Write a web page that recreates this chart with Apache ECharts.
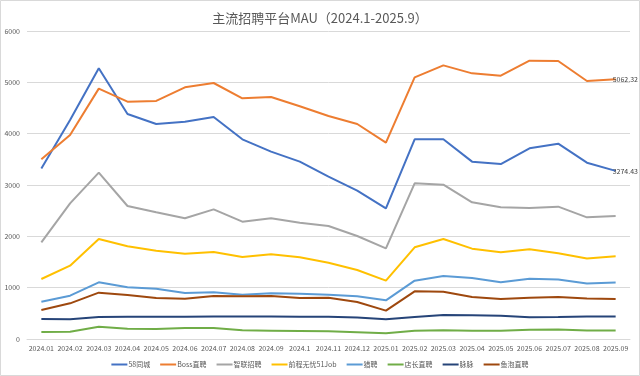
<!DOCTYPE html>
<html>
<head>
<meta charset="utf-8">
<script src="https://cdn.jsdelivr.net/npm/echarts@6/dist/echarts.min.js"></script>
<style>
  html, body { margin: 0; padding: 0; background: #fff; }
  #main { width: 640px; height: 376px; }
</style>
</head>
<body>
<div id="main"></div>
<script type="text/javascript">
    // 月份
    const months = ['2024.01','2024.02','2024.03','2024.04','2024.05','2024.06','2024.07','2024.08','2024.09','2024.1',
        '2024.11','2024.12','2025.01','2025.02','2025.03','2025.04','2025.05','2025.06','2025.07','2025.08','2025.09'];

    // 各平台 MAU（万）
    const tongcheng58 = [3320,4266,5273,4383,4188,4234,4325,3890,3650,3455,3162,2890,2546,3890,3890,3455,3409,3715,3805,3435,3274.43];
    const boss = [3500,3974,4877,4624,4637,4903,4987,4689,4715,4535,4344,4188,3825,5098,5331,5175,5130,5422,5415,5026,5062.32];
    const zhilian = [1884,2643,3240,2591,2468,2351,2526,2286,2351,2266,2201,2006,1766,3033,3006,2662,2565,2552,2578,2370,2396];
    const job51 = [1169,1429,1948,1805,1721,1662,1695,1597,1649,1591,1487,1344,1136,1786,1948,1760,1688,1747,1670,1570,1610];
    const liepin = [727,844,1104,1006,981,896,909,864,890,880,864,831,753,1136,1227,1188,1104,1175,1160,1080,1100];
    const dianzhang = [136,143,240,201,195,214,214,169,162,156,149,130,110,162,169,162,162,182,185,165,165];
    const maimai = [390,383,429,432,435,435,437,437,437,435,435,420,383,429,468,461,455,422,430,440,440];
    const yupao = [565,695,903,857,799,786,838,831,838,799,805,721,552,929,922,818,779,805,820,790,780];

    const names = ['58同城','Boss直聘','智联招聘','前程无忧51Job','猎聘','店长直聘','脉脉','鱼泡直聘'];
    const colors = ['#4472C4','#ED7D31','#A5A5A5','#FFC000','#5B9BD5','#70AD47','#264478','#9E480E'];
    const allData = [tongcheng58, boss, zhilian, job51, liepin, dianzhang, maimai, yupao];

    let chart = echarts.init(document.getElementById('main'));

    let series = allData.map(function (d, i) {
        return {
            name: names[i],
            type: 'line',
            data: d,
            symbol: 'none',
            lineStyle: { width: 2, color: colors[i] },
            itemStyle: { color: colors[i] },
            // 只有前两条线标注末尾数值
            endLabel: {
                show: i < 2,
                distance: -3,
                fontSize: 7,
                color: '#404040',
                formatter: function (p) { return p.value; }
            }
        };
    });

    let option = {
        backgroundColor: '#fff',
        animation: false,
        textStyle: { fontFamily: 'Noto Sans CJK SC' },
        title: {
            text: '主流招聘平台MAU（2024.1-2025.9）',
            left: 'center',
            top: 7,
            textStyle: { fontSize: 13, fontWeight: 'normal', color: '#595959', fontFamily: 'Noto Sans CJK SC' }
        },
        legend: {
            data: names,
            bottom: 3,
            left: 'center',
            icon: 'rect',
            itemWidth: 16,
            itemHeight: 2,
            itemGap: 10,
            textStyle: { fontSize: 7, color: '#595959', padding: [0, 0, 0, -4] }
        },
        grid: { left: 27, right: 10, top: 31, bottom: 37 },
        xAxis: {
            type: 'category',
            data: months,
            axisLine: { lineStyle: { color: '#d9d9d9' } },
            axisTick: { show: false },
            axisLabel: { fontSize: 7, color: '#595959', interval: 0, margin: 6 }
        },
        yAxis: {
            type: 'value',
            min: 0,
            max: 6000,
            interval: 1000,
            axisLabel: { fontSize: 7, color: '#595959', margin: 7, formatter: function (v) { return String(v); } },
            splitLine: { lineStyle: { color: '#d9d9d9' } }
        },
        graphic: [{
            type: 'rect',
            shape: { x: 0.5, y: 0.5, width: 639, height: 375 },
            style: { fill: 'none', stroke: '#d9d9d9', lineWidth: 1 },
            silent: true
        }],
        series: series
    };

    chart.setOption(option);
</script>
</body>
</html>
